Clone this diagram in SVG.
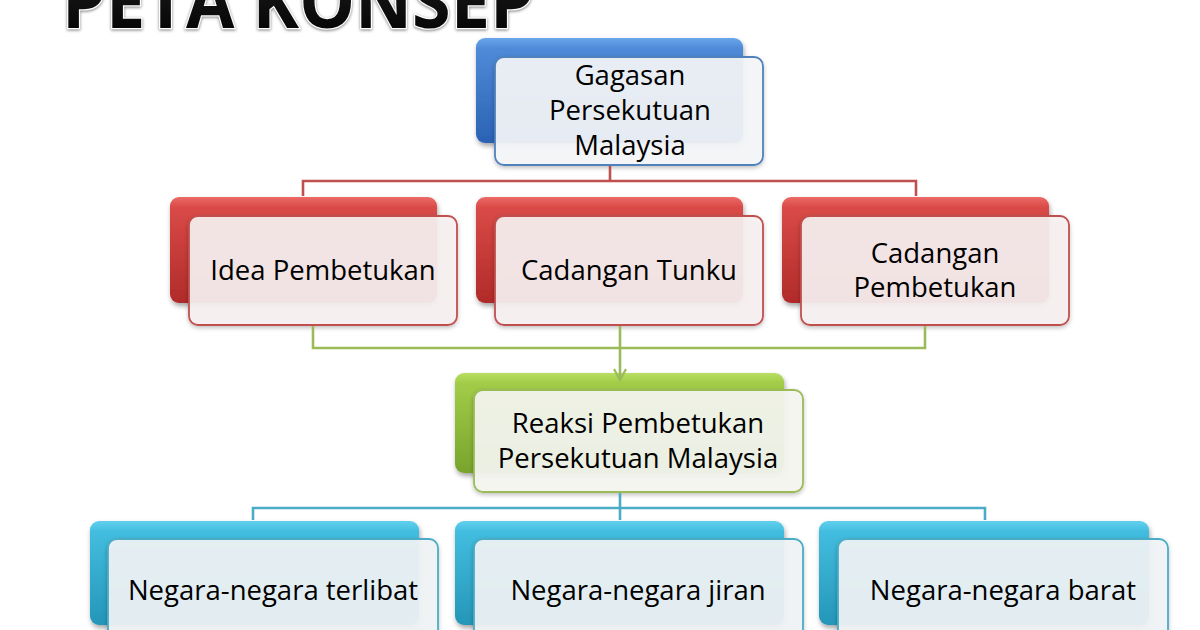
<svg xmlns="http://www.w3.org/2000/svg" width="1200" height="630" viewBox="0 0 1200 630">
<defs>
<linearGradient id="gBlue" x1="0" y1="0" x2="0" y2="1"><stop offset="0" stop-color="#6aa6ea"/><stop offset="0.1" stop-color="#4f8ad8"/><stop offset="1" stop-color="#2a62b4"/></linearGradient>
<linearGradient id="gRed" x1="0" y1="0" x2="0" y2="1"><stop offset="0" stop-color="#ec6a66"/><stop offset="0.1" stop-color="#d94a47"/><stop offset="1" stop-color="#b02b29"/></linearGradient>
<linearGradient id="gGreen" x1="0" y1="0" x2="0" y2="1"><stop offset="0" stop-color="#b8de62"/><stop offset="0.1" stop-color="#a2cc48"/><stop offset="1" stop-color="#78a42c"/></linearGradient>
<linearGradient id="gCyan" x1="0" y1="0" x2="0" y2="1"><stop offset="0" stop-color="#62d0ee"/><stop offset="0.1" stop-color="#42bddf"/><stop offset="1" stop-color="#2596b8"/></linearGradient>
<linearGradient id="gTitle" x1="0" y1="0" x2="0" y2="1"><stop offset="0" stop-color="#000"/><stop offset="0.45" stop-color="#5a5a5a"/><stop offset="0.5" stop-color="#111"/><stop offset="1" stop-color="#000"/></linearGradient>
<filter id="sh" x="-10%" y="-10%" width="125%" height="130%"><feDropShadow dx="1" dy="3" stdDeviation="2.5" flood-color="#000" flood-opacity="0.35"/></filter>
<filter id="sh2" x="-10%" y="-10%" width="125%" height="130%"><feDropShadow dx="0" dy="2" stdDeviation="2" flood-color="#000" flood-opacity="0.25"/></filter>
<marker id="arr" viewBox="0 0 14 14" refX="12" refY="7" markerWidth="14" markerHeight="14" markerUnits="userSpaceOnUse" orient="auto"><path d="M1,1 L12,7 L1,13" fill="none" stroke="#9bbb59" stroke-width="2.2"/></marker>
</defs>
<style>
.t{font-family:"Open Sans","Noto Sans","Liberation Sans",sans-serif;font-size:27.5px;fill:#000;text-anchor:middle}
.front{stroke-width:1.8;filter:url(#sh2)}
.fb{fill:#f4f6f9;fill-opacity:0.92;stroke:#4f81bd}
.fr{fill:#f7f1f1;fill-opacity:0.92;stroke:#c0504d}
.fg{fill:#f5f6f1;fill-opacity:0.92;stroke:#9bbb59}
.fc{fill:#f1f4f6;fill-opacity:0.92;stroke:#4bacc6}
.back{filter:url(#sh)}
.c{fill:none;stroke-width:2.6}
</style>
<rect width="1200" height="630" fill="#fff"/>
<text x="62" y="28" font-family="Open Sans, Liberation Sans, sans-serif" font-weight="bold" font-size="74" textLength="472" lengthAdjust="spacingAndGlyphs" fill="url(#gTitle)" stroke="#fff" stroke-width="2.5" paint-order="stroke" style="filter:drop-shadow(0 1px 1.5px rgba(0,0,0,0.5))">PETA KONSEP</text>
<g id="node-gagasan">
<rect class="back" x="476" y="38" width="267" height="105" rx="9" fill="url(#gBlue)"/>
<rect class="front fb" x="495" y="57" width="268" height="108" rx="9"/>
<text class="t" x="630" y="85">Gagasan</text>
<text class="t" x="630" y="120">Persekutuan</text>
<text class="t" x="630" y="155">Malaysia</text>
</g>
<g id="node-idea">
<rect class="back" x="170" y="197" width="267" height="106" rx="9" fill="url(#gRed)"/>
<rect class="front fr" x="189" y="216" width="268" height="109" rx="9"/>
<text class="t" x="323" y="280">Idea Pembetukan</text>
</g>
<g id="node-cadangan-tunku">
<rect class="back" x="476" y="197" width="267" height="106" rx="9" fill="url(#gRed)"/>
<rect class="front fr" x="495" y="216" width="268" height="109" rx="9"/>
<text class="t" x="629" y="280">Cadangan Tunku</text>
</g>
<g id="node-cadangan-pembetukan">
<rect class="back" x="782" y="197" width="267" height="106" rx="9" fill="url(#gRed)"/>
<rect class="front fr" x="801" y="216" width="268" height="109" rx="9"/>
<text class="t" x="935" y="263">Cadangan</text>
<text class="t" x="935" y="297">Pembetukan</text>
</g>
<g id="node-reaksi">
<rect class="back" x="455" y="373" width="329" height="100" rx="9" fill="url(#gGreen)"/>
<rect class="front fg" x="474" y="390" width="329" height="102" rx="9"/>
<text class="t" x="638" y="433">Reaksi Pembetukan</text>
<text class="t" x="638" y="468">Persekutuan Malaysia</text>
</g>
<g id="node-terlibat">
<rect class="back" x="90" y="521" width="329" height="104" rx="9" fill="url(#gCyan)"/>
<rect class="front fc" x="108" y="539" width="330" height="110" rx="9"/>
<text class="t" x="273" y="600">Negara-negara terlibat</text>
</g>
<g id="node-jiran">
<rect class="back" x="455" y="521" width="329" height="104" rx="9" fill="url(#gCyan)"/>
<rect class="front fc" x="474" y="539" width="329" height="110" rx="9"/>
<text class="t" x="638" y="600">Negara-negara jiran</text>
</g>
<g id="node-barat">
<rect class="back" x="819" y="521" width="330" height="104" rx="9" fill="url(#gCyan)"/>
<rect class="front fc" x="838" y="539" width="330" height="110" rx="9"/>
<text class="t" x="1003" y="600">Negara-negara barat</text>
</g>
<g id="connectors">
<path class="c" stroke="#c0504d" d="M610,166 V181 M303,196 V181 H916 V196"/>
<path class="c" stroke="#9bbb59" d="M313,326 V348 H925 V326 M620,326 V348"/>
<path class="c" stroke="#9bbb59" d="M620,348 V380" marker-end="url(#arr)"/>
<path class="c" stroke="#4bacc6" d="M620,493 V508 M253,520 V508 H985 V520 M620,508 V520"/>
</g>
</svg>
